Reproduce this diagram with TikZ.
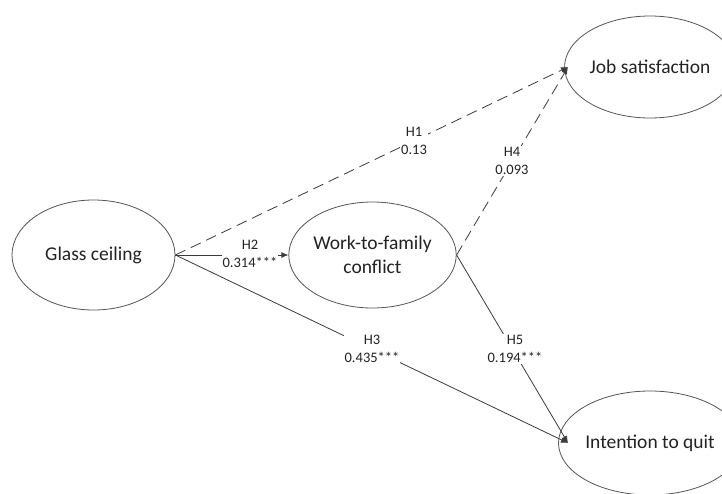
\documentclass[tikz,border=0pt]{standalone}
\usepackage{fontspec}
\setmainfont{Carlito}
\usetikzlibrary{shapes.geometric,arrows.meta}
\definecolor{linec}{HTML}{3A3A3A}
\definecolor{ellc}{HTML}{555555}
\definecolor{txtc}{HTML}{222222}
\tikzset{
  construct/.style={ellipse, draw=ellc, line width=0.8pt, inner sep=0pt, text=txtc,
    font=\fontsize{19.5}{24}\selectfont, align=center},
  path/.style={draw=linec, line width=0.8pt, -{Latex[length=7pt,width=6pt]}},
  dashpath/.style={path, dash pattern=on 11pt off 6pt},
  coef/.style={fill=white, inner sep=1pt, text=txtc, align=center,
    font=\fontsize{14.5}{18}\selectfont}
}
\begin{document}
\begin{tikzpicture}[x=1pt,y=-1pt]
\useasboundingbox (0,0) rectangle (722,493);
\node[construct, minimum width=163pt, minimum height=110pt] (gc) at (93.5,255) {Glass ceiling};
\node[construct, minimum width=161pt, minimum height=106pt] (wf) at (372.5,255) {Work-to-family\\conflict};
\node[construct, minimum width=160pt, minimum height=102pt] (js) at (650,67) {Job satisfaction};
\node[construct, minimum width=160pt, minimum height=104pt] (iq) at (650,443) {Intention to quit};
\coordinate (jsin) at (568,67);
\coordinate (iqin) at (568,443);
\draw[dashpath] (gc.east) -- (jsin);
\draw[dashpath] (wf.east) -- (jsin);
\draw[path] (gc.east) -- (wf.west);
\draw[path] (gc.east) -- (iqin);
\draw[path] (wf.east) -- (iqin);
\node[coef] (h1) at (414,141) {H1\\0.13};
\node[coef] (h2) at (250,254) {H2\\0.314***};
\node[coef] (h3) at (372,349) {H3\\0.435***};
\node[coef] (h4) at (512,161) {H4\\0.093};
\node[coef] (h5) at (515,349) {H5\\0.194***};
\end{tikzpicture}
\end{document}
